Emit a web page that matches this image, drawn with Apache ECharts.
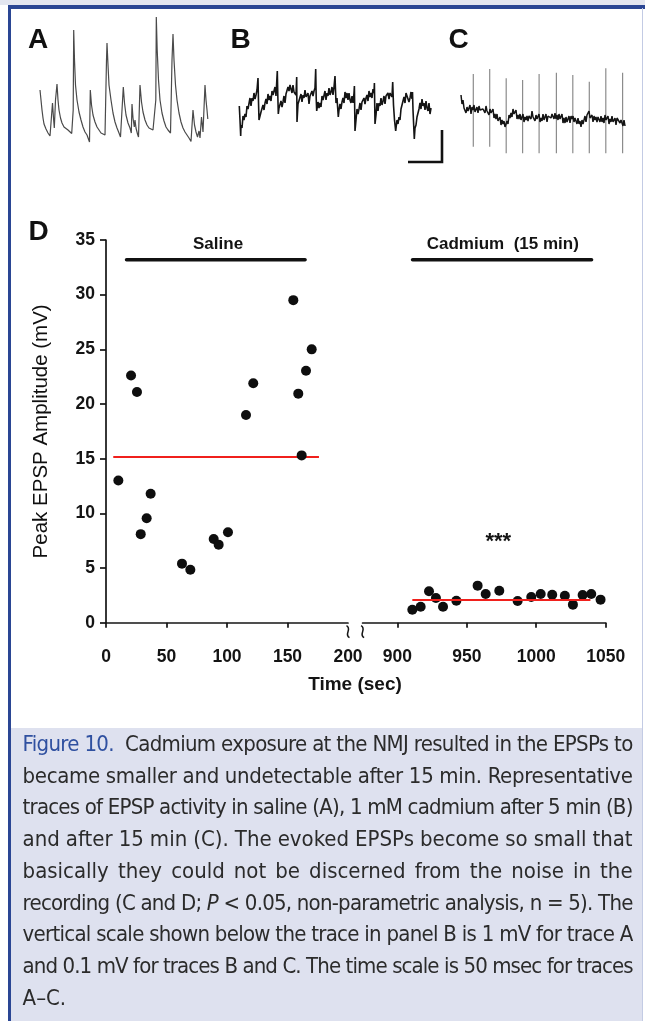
<!DOCTYPE html>
<html><head><meta charset="utf-8">
<script src="https://cdn.jsdelivr.net/npm/echarts@6/dist/echarts.min.js"></script>
<style>
html,body{margin:0;padding:0;background:#fff;}
#wrap{position:relative;width:645px;height:1021px;overflow:hidden;background:#fff;}
#topband{position:absolute;left:0;top:0;width:645px;height:5px;background:#e3e6f0;}
#topbar{position:absolute;left:8px;top:5px;width:637px;height:3.5px;background:#2a4694;}
#leftbar{position:absolute;left:8px;top:5px;width:3px;height:1016px;background:#2a4694;}
#rightline{position:absolute;left:642px;top:8px;width:1px;height:1013px;background:#c3cbe4;}
#capbg{position:absolute;left:11px;top:727.7px;width:631px;height:294px;background:#dee1ef;}
#chart{position:absolute;left:0;top:0;width:645px;height:1021px;}
#cap{position:absolute;left:22.6px;top:728px;width:620px;height:293px;font-family:'Liberation Sans Narrow','Arial Narrow','DejaVu Sans Condensed',sans-serif;font-size:22px;color:#2b2b2b;}
.cl{position:absolute;left:0;height:31.7px;line-height:31.7px;white-space:nowrap;}
.fig{color:#2f50a0;}
</style></head><body>
<div id="wrap">
<div id="topband"></div><div id="capbg"></div>
<div id="chart"></div>
<div id="topbar"></div><div id="leftbar"></div><div id="rightline"></div>
<div id="cap"></div>
</div>
<script>
// ---------- DATA ----------
// Representative traces: [time index, amplitude] (arbitrary units)
const traceA = [[0,60],[1,50],[2,40],[3,32],[4,26],[6,21],[8,17],[10,14],[11,15],[12.5,47],[13.5,32],[14.3,22],[15.5,50],[17,66],[18,50],[19,40],[20.5,32],[22,27],[24,23],[26,21],[28,20],[30,18],[31.7,16.5],[33.2,40],[33.7,120],[34.5,90],[35.5,65],[37,50],[39,38],[41,30],[43,23],[45,18],[47,15],[48.3,13],[49.5,8],[50.3,60],[51.5,45],[53,35],[55,28],[57,23],[59,20],[61,17],[63,16],[65,15],[66.5,90],[67,107],[68,85],[69,65],[71,50],[73,37],[75,28],[77,22],[79,17],[80.5,13],[81.5,12],[83.3,63],[84.5,47],[86,35],[88,27],[90,22],[91.3,17],[92,46],[93,32],[94.3,23],[95,30],[96,22],[97.5,16],[98.5,13],[100,65],[101.5,48],[103,38],[105,30],[107,25],[109,22],[111,21],[113,20],[115,20],[115.8,50],[116.3,133],[117.2,100],[118.5,70],[120,50],[122,37],[124,29],[126,23],[128,20],[130.5,17],[132,90],[133,116],[134,90],[135.5,65],[137,50],[139,37],[141,28],[143,22],[145,18],[147,15],[149,12],[151,8.5],[153,40],[154.5,25],[156,18],[157.5,13],[159,19],[160,12],[161.5,33],[163,18],[164,16],[165,65],[166,50],[167,40],[167.8,31]];
const traceB = [[0.3,44],[1,30],[1.7,14],[2,25],[3,22],[4,34],[5,30],[6,36],[7,33],[8,44],[9,41],[10,41],[11,52],[12,44],[13,52],[14,49],[15,57],[16,51],[17,55],[18,60],[19,72],[19.5,48],[20,30],[21,28],[22,38],[23,38],[24,45],[25,40],[26,47],[27,51],[28,46],[29,56],[30,50],[31,54],[32,49],[33,59],[34,55],[35,54],[36,63],[37,54],[38.3,79],[38.8,55],[39.3,36],[40,42],[41,40],[42,49],[43,43],[44,48],[45,54],[46,47],[47,56],[48,56],[49,63],[50,59],[51,65],[52,65],[53,57],[54,65],[55,58],[56,60],[57,55],[57.7,73],[58,28],[59,46],[60,44],[61,45],[62,56],[63,48],[64,55],[65,52],[66,60],[67,53],[68,55],[69,57],[70,46],[71,54],[72,53],[73,59],[74,54],[75,59],[76,62],[76.7,81],[77.2,52],[77.7,39],[78,37],[79,48],[80,42],[81,47],[82,43],[83,54],[84,50],[85,49],[86,59],[87,50],[88,57],[89,54],[90,62],[91,55],[92,58],[93,63],[94,55],[95,63],[96,74],[96.5,60],[97,47],[98,52],[99.3,33],[100,40],[101,46],[102,41],[103,48],[104,52],[105,47],[106,58],[107,52],[108,57],[109,50],[110,57],[111,50],[112,47],[113,54],[114,47],[115,57],[115.4,64],[116,19],[117,30],[118,41],[119,36],[120,41],[121,47],[122,40],[123,48],[124,46],[125,52],[126,46],[127,52],[128,55],[129,49],[130,59],[131,53],[132,57],[133,52],[134,61],[135,57],[135.4,67],[136,26],[137,35],[138,47],[139,39],[140,47],[141,44],[142,52],[143,45],[144,49],[145,54],[146,46],[147,54],[148,52],[149,57],[150,51],[151,57],[152,59],[153,53],[153.7,68],[154.5,45],[155.5,30],[156.7,19],[158,30],[159,26],[160,33],[161,30],[162,41],[163,39],[164,40],[165,53],[166,47],[167,57],[168,55],[169,59],[170,48],[171,52],[172,58],[173,51],[173.5,58],[174,40],[175.3,11],[176,22],[177,25],[178,33],[179,31],[180,41],[181,47],[182,41],[183,51],[184,44],[185,47],[186,40],[187,49],[188,42],[189,39],[190,47],[191,36],[192,42]];
const traceC = [[1,55],[2,46],[3,50],[4,42],[5,43],[6,37],[7,43],[8,39],[9,39],[10,45],[11,36],[12,43],[13,40],[14,45],[15,38],[16,39],[17,43],[18,37],[19,44],[20,40],[21,42],[22,38],[23,41],[24,41],[25,37],[26,44],[27,39],[28,41],[29,35],[30,41],[31,37],[32,35],[33,41],[34,32],[35,36],[36,31],[37,36],[38,29],[39,30],[40,33],[41,25],[42,30],[43,26],[44,29],[45,23],[46,26],[47,29],[48,26],[49,35],[50,32],[51,37],[52,33],[53,41],[54,36],[55,34],[56,40],[57,31],[58,35],[59,31],[60,36],[61,30],[62,33],[63,36],[64,28],[65,33],[66,30],[67,34],[68,29],[69,34],[70,36],[71,31],[72,39],[73,33],[74,35],[75,29],[76,35],[77,31],[78,29],[79,36],[80,28],[81,32],[82,29],[83,36],[84,30],[85,33],[86,36],[87,28],[88,34],[89,32],[90,36],[91,32],[92,36],[93,36],[94,31],[95,37],[96,31],[97,35],[98,30],[99,36],[100,31],[101,29],[102,36],[103,27],[104,32],[105,27],[106,33],[107,28],[108,30],[109,34],[110,27],[111,34],[112,31],[113,34],[114,28],[115,32],[116,32],[117,26],[118,32],[119,26],[120,29],[121,23],[122,30],[123,26],[124,26],[125,34],[126,28],[127,35],[128,33],[129,39],[130,32],[131,33],[132,35],[133,28],[134,34],[135,30],[136,33],[137,28],[138,33],[139,33],[140,28],[141,34],[142,28],[143,32],[144,27],[145,35],[146,30],[147,28],[148,34],[149,26],[150,31],[151,28],[152,34],[153,28],[154,30],[155,32],[156,25],[157,32],[158,30],[159,33],[160,27],[161,30],[162,30],[163,24],[164,30],[165,24]];
const artifactT = [13.3, 29.7, 46.2, 62.6, 79.1, 96.4, 112.8, 129.3, 145.8, 162.6];
const artifactTop = [76, 81, 71.7, 70, 76, 77.3, 75, 68.3, 81.7, 77.3];
const artifactBottom = [3.3, 3.3, -3.3, -3.3, -3.3, -3.3, -3.3, -3.3, -3.3, -3.3];
const scaleBarT = [203, 203, 169];
const scaleBarV = [20, -12, -12];

// Panel D
const salineTime = [10.2, 20.7, 25.6, 28.7, 33.6, 36.9, 62.8, 69.7, 89, 93.1, 100.8, 115.7, 121.7, 154.8, 158.9, 161.7, 165.3, 170];
const salineAmp  = [13.0, 22.6, 21.1, 8.1, 9.55, 11.8, 5.4, 4.85, 7.66, 7.14, 8.27, 19.0, 21.9, 29.5, 20.95, 15.3, 23.05, 25.0];
const cadTime = [910.8, 916.8, 922.8, 927.8, 932.9, 942.5, 957.8, 963.6, 973.4, 986.6, 996.4, 1003.2, 1011.5, 1020.6, 1026.4, 1033.4, 1039.6, 1046.3];
const cadAmp  = [1.19, 1.46, 2.87, 2.26, 1.46, 2.01, 3.39, 2.63, 2.93, 1.99, 2.35, 2.63, 2.56, 2.47, 1.65, 2.53, 2.63, 2.11];
const salineMean = 15.15, salineMeanSpan = [6, 176];
const cadMean = 2.08, cadMeanSpan = [910.8, 1039];
const barLevel = 33.2;
const salineBarSpan = [17, 164.5];
const cadBarSpan = [911, 1039.8];
const groupLabels = ['Saline', 'Cadmium  (15 min)'];
const groupLabelT = [92.6, 975.9];
const groupLabelV = [34.57, 34.57];
const starsText = '***', starsT = 972.7, starsV = 7.41;
const xTicksLeft = [0, 50, 100, 150];
const xLabelsLeft = [0, 50, 100, 150, 200];
const xTicksRight = [900, 950, 1000, 1050];
const yMin = 0, yMax = 35, yStep = 5;

const captionLines = [
 '<span class="fig">Figure 10.</span>\u00a0 Cadmium exposure at the NMJ resulted in the EPSPs to',
 'became smaller and undetectable after 15 min. Representative',
 'traces of EPSP activity in saline (A), 1 mM cadmium after 5 min (B)',
 'and after 15 min (C). The evoked EPSPs become so small that',
 'basically they could not be discerned from the noise in the',
 'recording (C and D; <i>P</i> &lt; 0.05, non-parametric analysis, n = 5). The',
 'vertical scale shown below the trace in panel B is 1 mV for trace A',
 'and 0.1 mV for traces B and C. The time scale is 50 msec for traces',
 'A\u2013C.'
];

// ---------- CHART ----------
const FF = "'Liberation Sans', Arial, sans-serif";
const INK = '#141414';
const chart = echarts.init(document.getElementById('chart'), null, {renderer: 'canvas'});
const zip = (a, b) => a.map((v, i) => [v, b[i]]);
const plain = v => String(v);

function hiddenAxis(grid, min, max) { return {type: 'value', gridIndex: grid, min, max, show: false}; }
const axLine = {show: true, lineStyle: {color: INK, width: 1.7}};
const axLabel = {fontFamily: FF, fontWeight: 'bold', fontSize: 17.5, color: INK, formatter: plain};

function textSeries(x, y, t, v, text, size) {
  return {type: 'custom', xAxisIndex: x, yAxisIndex: y, silent: true, z: 5,
    data: [[t, v]],
    renderItem: (params, api) => {
      const p = api.coord([api.value(0), api.value(1)]);
      return {type: 'text', x: p[0], y: p[1],
        style: {text, fill: INK, font: 'bold ' + size + 'px ' + FF, align: 'center', verticalAlign: 'middle'}};
    }};
}

const option = {
  animation: false,
  textStyle: {fontFamily: FF},
  grid: [
    {left: 40, top: 10, width: 170, height: 160, outerBoundsMode: 'none'},
    {left: 239, top: 10, width: 215, height: 160, outerBoundsMode: 'none'},
    {left: 460, top: 10, width: 170, height: 160, outerBoundsMode: 'none'},
    {left: 106, top: 240, width: 242, height: 382.7, outerBoundsMode: 'none'},
    {left: 362.6, top: 240, width: 243.1, height: 382.7, outerBoundsMode: 'none'}
  ],
  xAxis: [
    hiddenAxis(0, 0, 170), hiddenAxis(1, 0, 215), hiddenAxis(2, 0, 170),
    {type: 'value', gridIndex: 3, min: 0, max: 200, offset: 9,
     axisLine: axLine, splitLine: {show: false},
     axisTick: {show: true, customValues: xTicksLeft, length: 5, lineStyle: {color: INK, width: 1.7}},
     axisLabel: Object.assign({customValues: xLabelsLeft, margin: 16}, axLabel)},
    {type: 'value', gridIndex: 4, min: 875, max: 1050, offset: 9,
     axisLine: axLine, splitLine: {show: false},
     axisTick: {show: true, customValues: xTicksRight, length: 5, lineStyle: {color: INK, width: 1.7}},
     axisLabel: Object.assign({customValues: xTicksRight, margin: 16}, axLabel)}
  ],
  yAxis: [
    hiddenAxis(0, -20, 140), hiddenAxis(1, -20, 140), hiddenAxis(2, -20, 140),
    {type: 'value', gridIndex: 3, min: yMin, max: yMax, interval: yStep,
     axisLine: axLine, splitLine: {show: false},
     axisTick: {show: true, length: 6, lineStyle: {color: INK, width: 1.7}},
     axisLabel: Object.assign({margin: 11}, axLabel),
     name: 'Peak EPSP Amplitude (mV)', nameLocation: 'middle', nameGap: 54,
     nameTextStyle: {fontFamily: FF, fontSize: 20.5, color: '#101010'}},
    {type: 'value', gridIndex: 4, min: yMin, max: yMax, show: false}
  ],
  series: [
    {type: 'line', xAxisIndex: 0, yAxisIndex: 0, data: traceA, symbol: 'none', silent: true,
     lineStyle: {color: '#4a4a4a', width: 1.2}},
    {type: 'line', xAxisIndex: 1, yAxisIndex: 1, data: traceB, symbol: 'none', silent: true,
     lineStyle: {color: '#141414', width: 1.6}},
    {type: 'line', xAxisIndex: 1, yAxisIndex: 1, data: zip(scaleBarT, scaleBarV), symbol: 'none', silent: true,
     lineStyle: {color: '#111', width: 2.6, join: 'miter'}},
    {type: 'custom', xAxisIndex: 2, yAxisIndex: 2, silent: true,
     data: artifactT.map((t, i) => [t, artifactTop[i], artifactBottom[i]]),
     renderItem: (params, api) => {
       const a = api.coord([api.value(0), api.value(1)]);
       const b = api.coord([api.value(0), api.value(2)]);
       return {type: 'line', shape: {x1: a[0], y1: a[1], x2: b[0], y2: b[1]},
               style: {stroke: '#8c8c8c', lineWidth: 1.2}};
     }},
    {type: 'line', xAxisIndex: 2, yAxisIndex: 2, data: traceC, symbol: 'none', silent: true, z: 3,
     lineStyle: {color: '#141414', width: 1.5}},
    // Panel D, saline
    {type: 'line', xAxisIndex: 3, yAxisIndex: 3, data: salineMeanSpan.map(t => [t, salineMean]), symbol: 'none',
     lineStyle: {color: '#f0201c', width: 2}, z: 2},
    {type: 'scatter', xAxisIndex: 3, yAxisIndex: 3, data: zip(salineTime, salineAmp), symbol: 'circle', symbolSize: 10,
     itemStyle: {color: '#0e0e0e', opacity: 1}, z: 3},
    {type: 'line', xAxisIndex: 3, yAxisIndex: 3, data: salineBarSpan.map(t => [t, barLevel]), symbol: 'none',
     lineStyle: {color: '#111', width: 3.6, cap: 'round'}},
    textSeries(3, 3, groupLabelT[0], groupLabelV[0], groupLabels[0], 17),
    // Panel D, cadmium
    {type: 'scatter', xAxisIndex: 4, yAxisIndex: 4, data: zip(cadTime, cadAmp), symbol: 'circle', symbolSize: 10,
     itemStyle: {color: '#0e0e0e', opacity: 1}, z: 2},
    {type: 'line', xAxisIndex: 4, yAxisIndex: 4, data: cadMeanSpan.map(t => [t, cadMean]), symbol: 'none',
     lineStyle: {color: '#f0201c', width: 2}, z: 3},
    {type: 'line', xAxisIndex: 4, yAxisIndex: 4, data: cadBarSpan.map(t => [t, barLevel]), symbol: 'none',
     lineStyle: {color: '#111', width: 3.6, cap: 'round'}},
    textSeries(4, 4, groupLabelT[1], groupLabelV[1], groupLabels[1], 17),
    textSeries(4, 4, starsT, starsV, starsText, 22)
  ],
  graphic: [
    {type: 'text', id: 'lA', x: 28, y: 40.3, style: {text: 'A', font: 'bold 28px ' + FF, fill: '#111', align: 'left', verticalAlign: 'middle'}},
    {type: 'text', id: 'lB', x: 230.5, y: 40.3, style: {text: 'B', font: 'bold 28px ' + FF, fill: '#111', align: 'left', verticalAlign: 'middle'}},
    {type: 'text', id: 'lC', x: 448.6, y: 40.3, style: {text: 'C', font: 'bold 28px ' + FF, fill: '#111', align: 'left', verticalAlign: 'middle'}},
    {type: 'text', id: 'lD', x: 28.5, y: 232, style: {text: 'D', font: 'bold 28px ' + FF, fill: '#111', align: 'left', verticalAlign: 'middle'}},
    {type: 'text', id: 'xName', x: 355, y: 684.4, style: {text: 'Time (sec)', font: 'bold 19px ' + FF, fill: INK, align: 'center', verticalAlign: 'middle'}}
  ]
};
chart.setOption(option);

// axis-break squiggles, placed from the axes' own scales
const pL = chart.convertToPixel({gridIndex: 3}, [200, 0]);
const pR = chart.convertToPixel({gridIndex: 4}, [875, 0]);
const axisY = pL[1] + 9;
function squiggle(id, x) {
  return {type: 'bezierCurve', id, shape: {x1: x - 1.5, y1: axisY - 6, cpx1: x + 4.5, cpy1: axisY - 2.5, cpx2: x - 4.5, cpy2: axisY + 2.5, x2: x + 1.5, y2: axisY + 6},
          style: {stroke: INK, lineWidth: 1.5, fill: null}};
}
chart.setOption({graphic: [squiggle('bL', pL[0]), squiggle('bR', pR[0])]});

// ---------- CAPTION (justified lines) ----------
const cap = document.getElementById('cap');
const W = 610;
captionLines.forEach((txt, i) => {
  const d = document.createElement('div');
  d.className = 'cl';
  d.style.top = (i * 31.7) + 'px';
  const s = document.createElement('span');
  s.innerHTML = txt;
  d.appendChild(s);
  cap.appendChild(d);
  if (i < captionLines.length - 1) {
    const w = s.getBoundingClientRect().width;
    const tx = s.textContent;
    const n = (tx.match(/[ \u00a0]/g) || []).length;
    const diff = W - w;
    if (diff < 0 && diff / n < -1.5) {
      s.style.letterSpacing = (diff / tx.length) + 'px';
      const w2 = s.getBoundingClientRect().width;
      s.style.wordSpacing = ((W - w2) / n) + 'px';
    } else {
      s.style.wordSpacing = (diff / n) + 'px';
    }
  }
});
</script>
</body></html>
